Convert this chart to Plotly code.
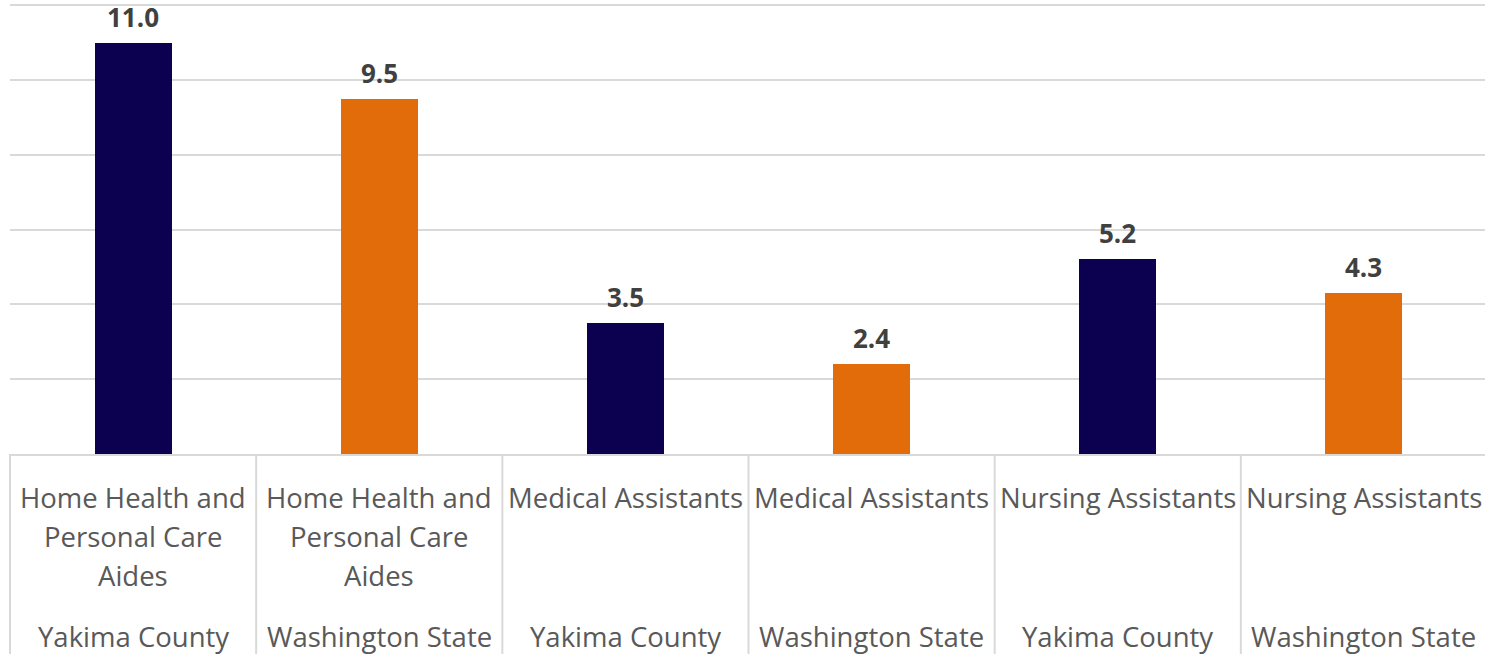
import plotly.graph_objects as go

occupations = [
    "Home Health and<br>Personal Care<br>Aides",
    "Home Health and<br>Personal Care<br>Aides",
    "Medical Assistants",
    "Medical Assistants",
    "Nursing Assistants",
    "Nursing Assistants",
]
regions = ["Yakima County", "Washington State", "Yakima County",
           "Washington State", "Yakima County", "Washington State"]
values = [11.0, 9.5, 3.5, 2.4, 5.2, 4.3]
colors = ["#0C0050", "#E36C0A", "#0C0050", "#E36C0A", "#0C0050", "#E36C0A"]

FONT = "Open Sans"
GRID = "#D9D9D9"
n = len(values)
xs = list(range(n))

fig = go.Figure()
fig.add_trace(go.Bar(
    x=xs, y=values, marker=dict(color=colors, line=dict(width=0)),
    width=0.313, hoverinfo="skip", showlegend=False,
))

annotations = []
for i, v in enumerate(values):
    annotations.append(dict(
        x=i, y=v, xref="x", yref="y", text=f"<b>{v:.1f}</b>", showarrow=False,
        yanchor="bottom", yshift=6,
        font=dict(family=FONT, size=26, color="#404040"),
    ))
    for j, line in enumerate(occupations[i].split("<br>")):
        annotations.append(dict(
            x=i, y=0, xref="x", yref="paper", text=line, showarrow=False,
            yanchor="middle", yshift=-(43 + 39 * j),
            font=dict(family=FONT, size=27.5, color="#595959"),
        ))
    annotations.append(dict(
        x=i, y=0, xref="x", yref="paper", text=regions[i], showarrow=False,
        yanchor="middle", yshift=-182,
        font=dict(family=FONT, size=27.5, color="#595959"),
    ))

shapes = []
for k in range(n + 1):
    xp = k / n
    shapes.append(dict(
        type="line", xref="paper", yref="paper", x0=xp, x1=xp, y0=0, y1=-0.5,
        line=dict(color=GRID, width=2), layer="above",
    ))

fig.update_layout(
    width=1487, height=654,
    margin=dict(l=10, r=0, t=4, b=200),
    paper_bgcolor="white", plot_bgcolor="white",
    xaxis=dict(range=[-0.5, n - 0.5], showticklabels=False, showgrid=False,
               zeroline=False, showline=True, linecolor=GRID, linewidth=2,
               ticks=""),
    yaxis=dict(range=[0, 12.03], tick0=0, dtick=2, showticklabels=False,
               showgrid=True, gridcolor=GRID, gridwidth=2, zeroline=False,
               showline=False, ticks=""),
    annotations=annotations, shapes=shapes,
    bargap=0,
)

fig.write_html(
    "out.html",
    config={"displayModeBar": False},
    post_script="document.body.style.margin='0';document.body.style.overflow='hidden';",
)
